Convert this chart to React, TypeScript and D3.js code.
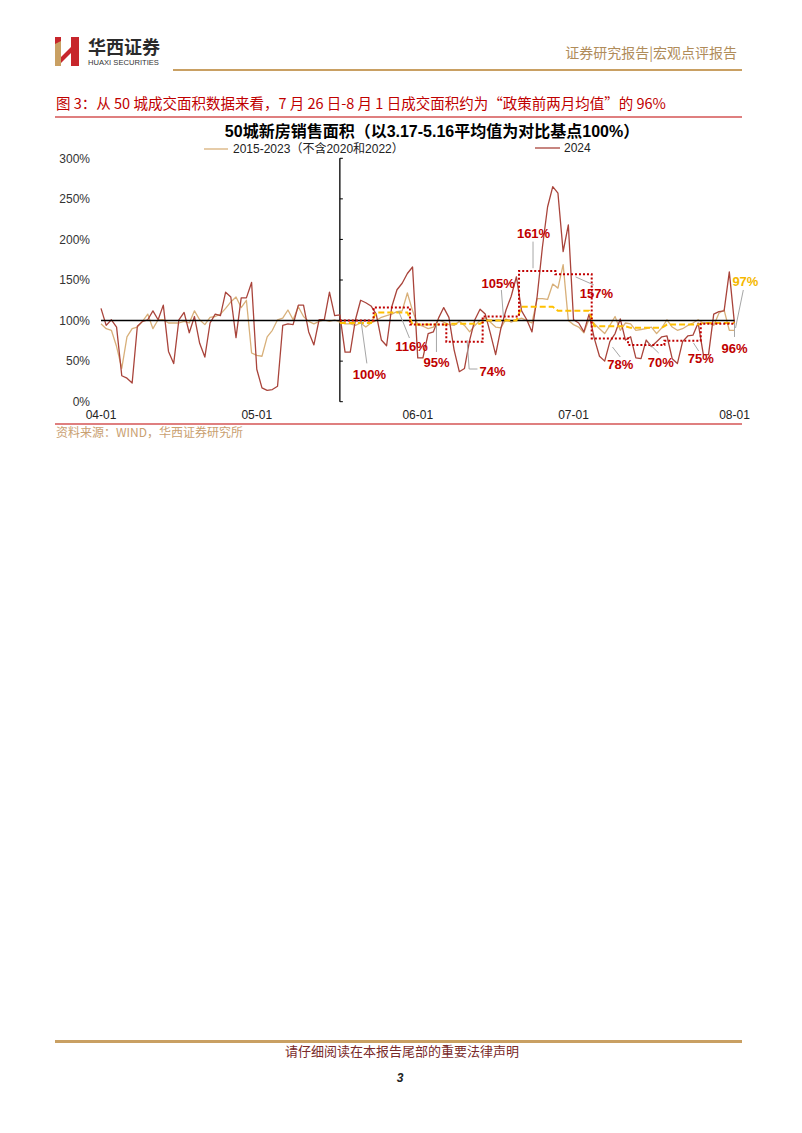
import React from 'react';
import * as d3 from 'd3';

// ---------- data ----------
const xTickLabels = ['04-01', '05-01', '06-01', '07-01', '08-01'];
const xTickDates = [new Date(2024, 3, 1), new Date(2024, 4, 1), new Date(2024, 5, 1), new Date(2024, 6, 1), new Date(2024, 7, 1)];
const yTicks = [0, 50, 100, 150, 200, 250, 300];
const startDate = new Date(2024, 3, 1);
const policyDayIndex = 46; // 05-17

// daily index values, 04-01 .. 08-01
const sales2024 = [
  115, 94, 101, 92, 32, 29, 23, 93, 99, 101, 112, 101, 119, 62, 47, 101, 110, 85, 105, 72,
  55, 97, 108, 106, 135, 129, 79, 128, 128, 147, 40, 17, 14, 15, 19, 94, 96, 95, 119, 119,
  86, 70, 101, 101, 135, 106, 107, 61, 61, 101, 125, 122, 118, 108, 76, 69, 117, 138, 146, 158,
  166, 54, 54, 84, 86, 103, 116, 104, 64, 37, 41, 76, 101, 114, 108, 84, 58, 90, 113, 130,
  154, 112, 101, 86, 130, 190, 240, 265, 257, 185, 218, 101, 97, 86, 108, 78, 56, 50, 74, 84,
  102, 76, 80, 54, 53, 76, 68, 74, 80, 81, 53, 47, 74, 81, 82, 97, 58, 58, 108, 111,
  112, 160, 96,
];
const sales2015to2023 = [
  96, 90, 88, 68, 41, 80, 90, 92, 99, 108, 90, 101, 101, 97, 97, 97, 99, 97, 112, 101,
  95, 104, 105, 108, 115, 123, 129, 116, 125, 60, 57, 56, 80, 88, 101, 103, 113, 101, 117, 105,
  99, 96, 99, 101, 99, 101, 98, 96, 96, 94, 97, 92, 97, 100, 104, 106, 108, 111, 112, 134,
  112, 95, 93, 90, 92, 101, 98, 95, 94, 99, 94, 86, 94, 100, 103, 98, 92, 91, 102, 98,
  101, 103, 100, 97, 127, 127, 126, 145, 140, 169, 100, 95, 92, 85, 102, 96, 90, 84, 94, 105,
  88, 97, 96, 88, 89, 90, 92, 84, 91, 101, 92, 88, 90, 94, 97, 101, 97, 97, 94, 109,
  113, 88, 88,
];
// weekly averages after 05-17
const weekly2024 = [100, 116, 95, 74, 105, 161, 157, 78, 70, 75, 96];
const weeklyHist = [97, 110, 95, 96, 100, 117, 112, 93, 91, 95, 97];

// annotation labels: [text, labelDay, labelValue, leader points [day,value][]]
const redLabels: [string, number, number, [number, number][]][] = [
  ['100%', 51.7, 34, [[50.1, 98.6], [51.2, 47.2]]],
  ['116%', 59.8, 68.7, [[57.3, 111.8], [59.4, 78.5]]],
  ['95%', 64.6, 49, [[64.6, 97], [64.6, 61.3]]],
  ['74%', 75.4, 37.9, [[70.5, 76], [70.9, 40.3], [72.5, 40.3]]],
  ['105%', 76.5, 146.4, [[77.1, 137.7], [77.5, 104.4]]],
  ['161%', 83.3, 208, [[83.2, 197.3], [83.2, 164.5]]],
  ['157%', 95.4, 134, [[91.4, 153.8], [94.9, 143.9]]],
  ['78%', 100, 46.5, [[98.5, 67.4], [100, 55.1]]],
  ['70%', 107.8, 49, [[105.4, 72.4], [107.4, 60]]],
  ['75%', 115.5, 54, [[114.1, 72.4], [115.1, 62.5]]],
  ['96%', 122, 66, [[122, 97], [122, 79.8]]],
];
const yellowLabels: [string, number, number, [number, number][]][] = [
  ['97%', 124.1, 148.8, [[123.7, 137.7], [122.2, 90.9]]],
];

// ---------- styling ----------
const LATIN = "'Liberation Sans', Arial, 'Noto Sans CJK SC', sans-serif";
const CJK = "'Noto Sans CJK SC', 'Liberation Sans', sans-serif";
const TAN = '#d8b07a';
const RED = '#a9443b';
const LABEL_RED = '#c00000';
const YELLOW = '#ffc000';

export default function App() {
  const x = d3.scaleTime().domain([xTickDates[0], xTickDates[4]]).range([101, 734.5]);
  const y = d3.scaleLinear().domain([0, 300]).range([401.7, 158.3]);
  const dayDate = (d: number) => new Date(startDate.getTime() + d * 86400000);
  const xd = (d: number) => x(dayDate(d));

  const line = d3.line<number>().x((_, i) => xd(i)).y((v) => y(v));
  const weekSeries = (w: number[]) => {
    const out: [number, number][] = [];
    for (let d = policyDayIndex; d < sales2024.length; d++) out.push([d, w[Math.floor((d - policyDayIndex) / 7)]]);
    return out;
  };
  const stepLine = d3.line<[number, number]>().x((p) => xd(p[0])).y((p) => y(p[1])).curve(d3.curveStep);
  const linLine = d3.line<[number, number]>().x((p) => xd(p[0])).y((p) => y(p[1]));
  const baseLine = d3.line<number>().x((_, i) => xd(i)).y((v) => y(v));
  const base = sales2024.map(() => 100);
  const axisX = xd(policyDayIndex);

  const renderLabels = (labels: typeof redLabels, color: string) =>
    labels.map(([t, ld, lv, pts], i) => (
      <g key={t + i}>
        <path d={linLine(pts) || ''} fill="none" stroke="#a6a6a6" strokeWidth={1} />
        <text x={xd(ld)} y={y(lv)} dy="0.36em" textAnchor="middle" fontFamily={LATIN} fontWeight="bold" fontSize={13} fill={color}>
          {t}
        </text>
      </g>
    ));

  return (
    <svg width={802} height={1133} style={{ position: 'absolute', left: 0, top: 0, background: '#fff' }}>
      <rect width={802} height={1133} fill="#fff" />
      {/* header */}
      <g>
        <rect x={55} y={41} width={6} height={25} fill="#c9a063" />
        <rect x={71} y={37} width={8} height={29} fill="#c7262c" />
        <polygon points="61,57 71,47 71,53 61,63" fill="#c7262c" />
        <polygon points="55,37 61,37 61,41 55,44" fill="#c7262c" />
        <text x={88} y={54} fontFamily={CJK} fontWeight="bold" fontSize={18} fill="#2b2b2b">华西证券</text>
        <text x={88} y={65} fontFamily={LATIN} fontSize={7.6} fill="#333">HUAXI SECURITIES</text>
        <text x={737} y={58} textAnchor="end" fontFamily={CJK} fontSize={14} fill="#b08c5a">证券研究报告|宏观点评报告</text>
        <rect x={173} y={69} width={569} height={2} fill="#c9a063" />
      </g>
      {/* caption */}
      <text x={56} y={109} fontFamily={CJK} fontSize={14.5} fill={LABEL_RED}>
        图 3：从 50 城成交面积数据来看，7 月 26 日-8 月 1 日成交面积约为“政策前两月均值”的 96%
      </text>
      <rect x={55} y={116.5} width={687} height={1} fill={LABEL_RED} />

      {/* title + legend */}
      <text x={432} y={137} textAnchor="middle" fontFamily={LATIN} fontWeight="bold" fontSize={16} fill="#000">
        50城新房销售面积（以3.17-5.16平均值为对比基点100%）
      </text>
      <line x1={204} x2={228} y1={149} y2={149} stroke={TAN} strokeWidth={1.3} />
      <text x={233} y={149} dy="0.36em" fontFamily={LATIN} fontSize={12} fill="#222">2015-2023（不含2020和2022）</text>
      <line x1={535} x2={560} y1={148} y2={148} stroke={RED} strokeWidth={1.3} />
      <text x={564} y={148} dy="0.36em" fontFamily={LATIN} fontSize={12} fill="#222">2024</text>

      {/* y labels */}
      {yTicks.map((t) => (
        <text key={t} x={90} y={y(t)} dy="0.36em" textAnchor="end" fontFamily={LATIN} fontSize={12} fill="#333">
          {t}%
        </text>
      ))}
      {/* x labels */}
      {xTickLabels.map((l, i) => (
        <text key={l} x={x(xTickDates[i])} y={415} dy="0.36em" textAnchor="middle" fontFamily={LATIN} fontSize={12} fill="#222">
          {l}
        </text>
      ))}
      {/* secondary vertical axis at policy date */}
      <line x1={axisX} x2={axisX} y1={y(300)} y2={y(0)} stroke="#000" strokeWidth={1.3} />
      {yTicks.map((t) => (
        <line key={'tk' + t} x1={axisX} x2={axisX + 3} y1={y(t)} y2={y(t)} stroke="#000" strokeWidth={1} />
      ))}

      {/* series */}
      <path d={line(sales2015to2023) || ''} fill="none" stroke={TAN} strokeWidth={1.3} strokeLinejoin="round" />
      <path d={line(sales2024) || ''} fill="none" stroke={RED} strokeWidth={1.3} strokeLinejoin="round" />
      <path d={baseLine(base) || ''} fill="none" stroke="#000" strokeWidth={1.4} />
      <path d={linLine(weekSeries(weeklyHist)) || ''} fill="none" stroke={YELLOW} strokeWidth={2} strokeDasharray="6,3" />
      <path d={stepLine(weekSeries(weekly2024)) || ''} fill="none" stroke={LABEL_RED} strokeWidth={2} strokeDasharray="2,2" />

      {renderLabels(redLabels, LABEL_RED)}
      {renderLabels(yellowLabels, '#f5b800')}

      {/* source */}
      <rect x={55} y={423.5} width={687} height={1} fill={LABEL_RED} />
      <text x={56} y={433} dy="0.36em" fontFamily={CJK} fontSize={12} fill="#c9a070">资料来源：WIND，华西证券研究所</text>

      {/* footer */}
      <rect x={55} y={1040} width={687} height={3} fill="#c9a063" />
      <text x={402} y={1056} textAnchor="middle" fontFamily={CJK} fontSize={13} fill="#7a2a2a">请仔细阅读在本报告尾部的重要法律声明</text>
      <text x={400} y={1082} textAnchor="middle" fontFamily={LATIN} fontWeight="bold" fontStyle="italic" fontSize={12} fill="#222">3</text>
    </svg>
  );
}
